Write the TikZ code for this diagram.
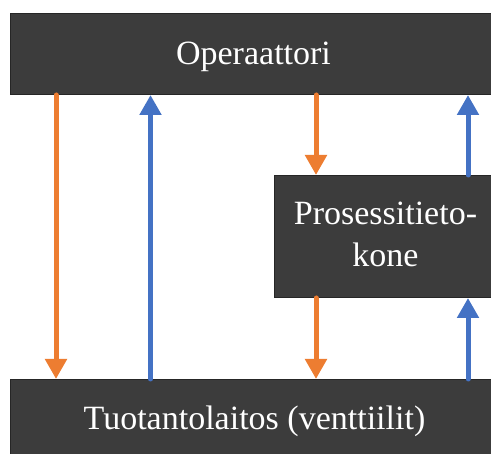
\documentclass[tikz,border=0pt]{standalone}
\usepackage{fontspec}
\setmainfont{Liberation Serif}
\newfontfamily\boxface{Liberation Serif}
\usetikzlibrary{arrows.meta}
\definecolor{boxfill}{HTML}{3C3C3C}
\definecolor{flowdown}{HTML}{ED7D31}
\definecolor{flowup}{HTML}{4472C4}
\tikzset{
  block/.style={draw=black!85, line width=1pt, fill=boxfill, rectangle,
    anchor=north west, inner sep=0pt},
  boxtext/.style={text=white, font=\boxface\fontsize{34}{42}\selectfont,
    align=center, inner sep=0pt},
  link/.style={line width=5pt, line cap=round,
    -{Triangle[width=21pt,length=20pt]}},
  downlink/.style={link, draw=flowdown},
  uplink/.style={link, draw=flowup}
}
\begin{document}
\begin{tikzpicture}[x=1pt,y=-1pt]
  \clip (0,0) rectangle (491,454);
  \fill[white] (0,0) rectangle (491,454);

  % boxes
  \node[block, minimum width=490pt, minimum height=81pt] (op) at (10,13) {};
  \node[block, minimum width=230pt, minimum height=122pt] (pc) at (274,175) {};
  \node[block, minimum width=490pt, minimum height=100pt] (plant) at (10,379) {};

  % box texts
  \node[boxtext, anchor=base] (optext) at (253.5,65) {Operaattori};
  \node[boxtext, anchor=base] (pctext1) at (385.5,225) {Prosessitieto-};
  \node[boxtext, anchor=base] (pctext2) at (385.5,267) {kone};
  \node[boxtext, anchor=base] (planttext) at (254.5,430) {Tuotantolaitos (venttiilit)};

  % arrow columns
  \coordinate (colA) at (56,0);
  \coordinate (colB) at (150.5,0);
  \coordinate (colC) at (316,0);
  \coordinate (colD) at (468,0);

  % operator <-> plant
  \draw[downlink] (colA |- op.south) -- (colA |- plant.north);
  \draw[uplink] (colB |- plant.north) -- (colB |- op.south);

  % operator <-> process computer
  \draw[downlink] (colC |- op.south) -- (colC |- pc.north);
  \draw[uplink] (colD |- pc.north) -- (colD |- op.south);

  % process computer <-> plant
  \draw[downlink] (colC |- pc.south) -- (colC |- plant.north);
  \draw[uplink] (colD |- plant.north) -- (colD |- pc.south);
\end{tikzpicture}
\end{document}
